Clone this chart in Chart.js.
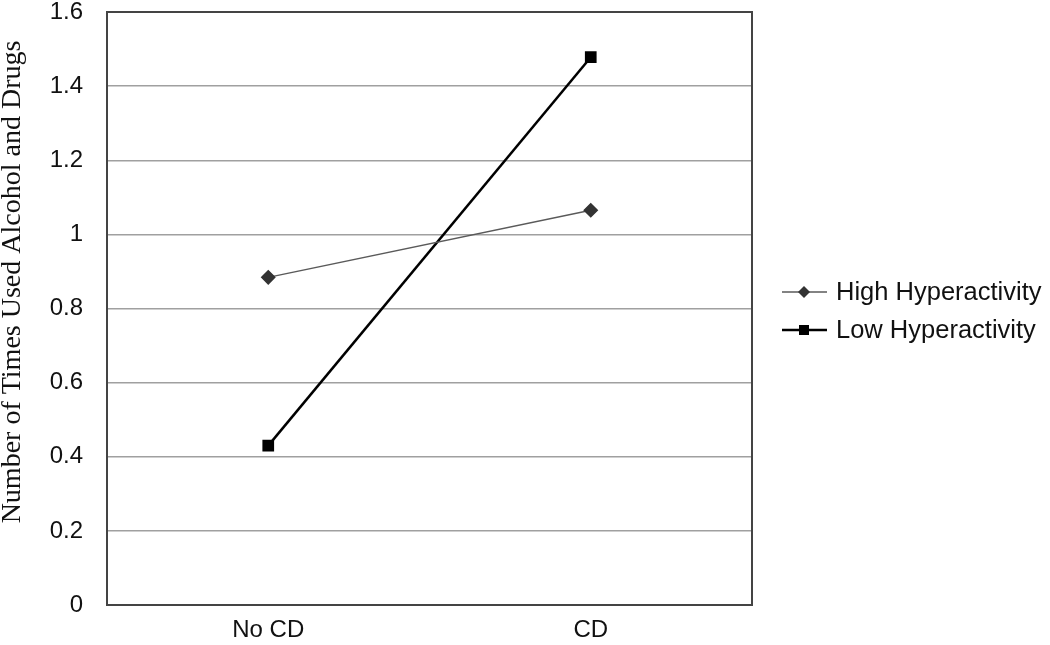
<!DOCTYPE html>
<html>
<head>
<meta charset="utf-8">
<script src="https://cdn.jsdelivr.net/npm/chart.js@4"></script>
<style>
  body { margin: 0; background: #fff; }
  #wrap { width: 1050px; height: 645px; }
</style>
</head>
<body>
<div id="wrap"><canvas id="chart" width="1050" height="645"></canvas></div>
<script>
const categories = ["No CD", "CD"];
const highHyper = [0.884, 1.065];
const lowHyper = [0.43, 1.478];
const yTicks = [0, 0.2, 0.4, 0.6, 0.8, 1, 1.2, 1.4, 1.6];
const yTitle = "Number of Times Used Alcohol and Drugs";

// legend drawn by hand: line + marker + label, like the original
const sideLegend = {
  id: "sideLegend",
  afterDraw(chart) {
    const ctx = chart.ctx;
    const rows = [292, 330];
    chart.data.datasets.forEach((ds, i) => {
      const y = rows[i];
      ctx.save();
      ctx.strokeStyle = ds.borderColor;
      ctx.lineWidth = ds.borderWidth;
      ctx.beginPath();
      ctx.moveTo(782, y);
      ctx.lineTo(827, y);
      ctx.stroke();
      ctx.fillStyle = ds.pointBackgroundColor;
      ctx.beginPath();
      if (ds.pointStyle === "rectRot") {
        ctx.moveTo(804, y - 6);
        ctx.lineTo(810, y);
        ctx.lineTo(804, y + 6);
        ctx.lineTo(798, y);
        ctx.closePath();
      } else {
        ctx.rect(799, y - 5, 10, 10);
      }
      ctx.fill();
      ctx.fillStyle = "#111";
      ctx.font = "25.5px 'Liberation Sans', Arial, sans-serif";
      ctx.textBaseline = "middle";
      ctx.fillText(ds.label, 836, y + 1);
      ctx.restore();
    });
  }
};

// y title sits a bit above the middle of the axis in the original
const sideTitle = {
  id: "sideTitle",
  afterDraw(chart) {
    const ctx = chart.ctx;
    ctx.save();
    ctx.translate(13, 282);
    ctx.rotate(-Math.PI / 2);
    ctx.fillStyle = "#111";
    ctx.font = "28px 'Liberation Serif', 'Times New Roman', serif";
    ctx.textAlign = "center";
    ctx.textBaseline = "middle";
    ctx.fillText(yTitle, 0, 0);
    ctx.restore();
  }
};

// top and right edges of the box
const boxEdges = {
  id: "boxEdges",
  afterDatasetsDraw(chart) {
    const a = chart.chartArea;
    const ctx = chart.ctx;
    ctx.save();
    ctx.strokeStyle = "#444";
    ctx.lineWidth = 2;
    ctx.beginPath();
    ctx.moveTo(a.left, a.top);
    ctx.lineTo(a.right, a.top);
    ctx.lineTo(a.right, a.bottom);
    ctx.stroke();
    ctx.restore();
  }
};

const data = {
  labels: categories,
  datasets: [
    {
      label: "High Hyperactivity",
      data: highHyper,
      borderColor: "#5a5a5a",
      borderWidth: 1.5,
      pointStyle: "rectRot",
      pointRadius: 6.5,
      pointBackgroundColor: "#333333",
      pointBorderColor: "#333333",
    },
    {
      label: "Low Hyperactivity",
      data: lowHyper,
      borderColor: "#000000",
      borderWidth: 2.5,
      pointStyle: "rect",
      pointRadius: 6.5,
      pointBackgroundColor: "#000000",
      pointBorderColor: "#000000",
    },
  ],
};

const config = {
  type: "line",
  data: data,
  plugins: [sideLegend, sideTitle, boxEdges],
  options: {
    responsive: false,
    animation: false,
    layout: { padding: { top: 12, right: 298, left: 0, bottom: 0 } },
    plugins: {
      legend: { display: false },
      tooltip: { enabled: false },
    },
    scales: {
      x: {
        offset: true,
        grid: { display: false, drawTicks: false },
        border: { display: true, color: "#444", width: 2 },
        ticks: {
          padding: 11,
          color: "#111",
          font: { family: "'Liberation Sans', Arial, sans-serif", size: 24 },
        },
        afterFit(scale) {
          scale.height = 40;
          scale.paddingLeft = 0;
          scale.paddingRight = 0;
        },
      },
      y: {
        min: 0,
        max: 1.6,
        afterBuildTicks(scale) { scale.ticks = yTicks.map(v => ({ value: v })); },
        grid: { color: "#a0a0a0", lineWidth: 1.5, drawTicks: false },
        border: { display: true, color: "#444", width: 2 },
        ticks: {
          padding: 24,
          color: "#111",
          font: { family: "'Liberation Sans', Arial, sans-serif", size: 24 },
          callback: v => String(Math.round(v * 10) / 10),
        },
        afterFit(scale) {
          scale.width = 107;
          scale.paddingTop = 0;
          scale.paddingBottom = 0;
        },
      },
    },
  },
};

const canvas = document.getElementById("chart").getContext("2d");
const chart = new Chart(canvas, config);
</script>
</body>
</html>
